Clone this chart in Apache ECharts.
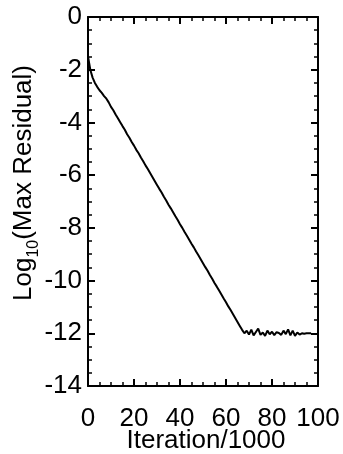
<!DOCTYPE html>
<html>
<head>
<meta charset="utf-8">
<script src="https://cdn.jsdelivr.net/npm/echarts@6/dist/echarts.min.js"></script>
<style>
  html, body { margin: 0; padding: 0; background: #fff; }
  #chart { width: 343px; height: 454px; }
</style>
</head>
<body>
<div id="chart"></div>
<script>
// iteration (thousands) and log10 of the max residual
const iterations = [
  0, 1, 2, 3, 4, 5, 6, 7, 8, 9,
  10, 11, 12, 13, 14, 15, 16, 17, 18, 19,
  20, 21, 22, 23, 24, 25, 26, 27, 28, 29,
  30, 31, 32, 33, 34, 35, 36, 37, 38, 39,
  40, 41, 42, 43, 44, 45, 46, 47, 48, 49,
  50, 51, 52, 53, 54, 55, 56, 57, 58, 59,
  60, 61, 62, 63, 64, 65, 66, 67, 68, 69,
  70, 71, 72, 73, 74, 75, 76, 77, 78, 79,
  80, 81, 82, 83, 84, 85, 86, 87, 88, 89,
  90, 91, 92, 93, 94, 95, 96, 97
];
const logResidual = [
  -1.50, -2.00, -2.30, -2.50, -2.65, -2.78, -2.88, -3.00, -3.10, -3.24,
  -3.41, -3.54, -3.70, -3.84, -3.99, -4.14, -4.28, -4.45, -4.58, -4.74,
  -4.88, -5.04, -5.17, -5.33, -5.47, -5.63, -5.77, -5.92, -6.07, -6.22,
  -6.37, -6.52, -6.66, -6.82, -6.96, -7.12, -7.26, -7.41, -7.56, -7.70,
  -7.86, -8.00, -8.16, -8.30, -8.45, -8.60, -8.74, -8.90, -9.04, -9.19,
  -9.34, -9.49, -9.63, -9.79, -9.93, -10.09, -10.23, -10.38, -10.53, -10.68,
  -10.82, -10.98, -11.12, -11.27, -11.42, -11.57, -11.72, -11.87, -12.00, -11.90,
  -12.05, -11.86, -12.08, -11.95, -11.82, -12.06, -11.97, -12.10, -11.90, -12.04,
  -11.94, -12.07, -11.96, -11.99, -12.06, -11.90, -12.03, -11.85, -12.08, -11.90,
  -12.10, -11.97, -12.05, -12.00, -12.02, -12.00, -12.00, -12.00
];
const xTicks = { min: 0, max: 100, interval: 20 };
const yTicks = { min: -14, max: 0, interval: 2 };

const chart = echarts.init(document.getElementById('chart'));
const font = 'Liberation Sans, Arial, Helvetica, sans-serif';

const frameAxis = {
  axisLine: { show: true, onZero: false, lineStyle: { color: '#000', width: 2 } },
  axisTick: { show: true, inside: true, length: 7, lineStyle: { color: '#000', width: 2 } },
  minorTick: { show: true, splitNumber: 4, length: 4, lineStyle: { color: '#000', width: 1.5 } },
  splitLine: { show: false }
};

const option = {
  animation: false,
  backgroundColor: '#fff',
  grid: { left: 88, right: 25, top: 17, bottom: 68, containLabel: false, outerBoundsMode: 'none' },
  xAxis: [
    {
      type: 'value',
      position: 'bottom',
      ...xTicks,
      ...frameAxis,
      axisLabel: { color: '#000', fontFamily: font, fontSize: 26, margin: 20 },
      name: 'Iteration/1000',
      nameLocation: 'middle',
      nameGap: 42,
      nameMoveOverlap: false,
      nameTextStyle: { color: '#000', fontFamily: font, fontSize: 26, padding: [0, 0, 0, 6] }
    },
    {
      type: 'value',
      position: 'top',
      ...xTicks,
      ...frameAxis,
      axisLabel: { show: false }
    }
  ],
  yAxis: [
    {
      type: 'value',
      position: 'left',
      ...yTicks,
      ...frameAxis,
      axisLabel: { color: '#000', fontFamily: font, fontSize: 26, margin: 6, padding: [5, 0, 0, 0] }
    },
    {
      type: 'value',
      position: 'right',
      ...yTicks,
      ...frameAxis,
      axisLabel: { show: false }
    }
  ],
  graphic: [
    {
      type: 'text',
      x: 24,
      y: 183,
      rotation: Math.PI / 2,
      style: {
        text: 'Log{sub|10}(Max Residual)',
        fill: '#000',
        font: '26px ' + font,
        lineHeight: 36,
        align: 'center',
        verticalAlign: 'middle',
        rich: {
          sub: { fontSize: 16, fontFamily: font, fill: '#000', lineHeight: 16, verticalAlign: 'bottom' }
        }
      }
    }
  ],
  series: [
    {
      type: 'line',
      xAxisIndex: 0,
      yAxisIndex: 0,
      data: iterations.map((x, i) => [x, logResidual[i]]),
      showSymbol: false,
      lineStyle: { color: '#000', width: 2 },
      silent: true
    }
  ]
};

chart.setOption(option);
</script>
</body>
</html>
